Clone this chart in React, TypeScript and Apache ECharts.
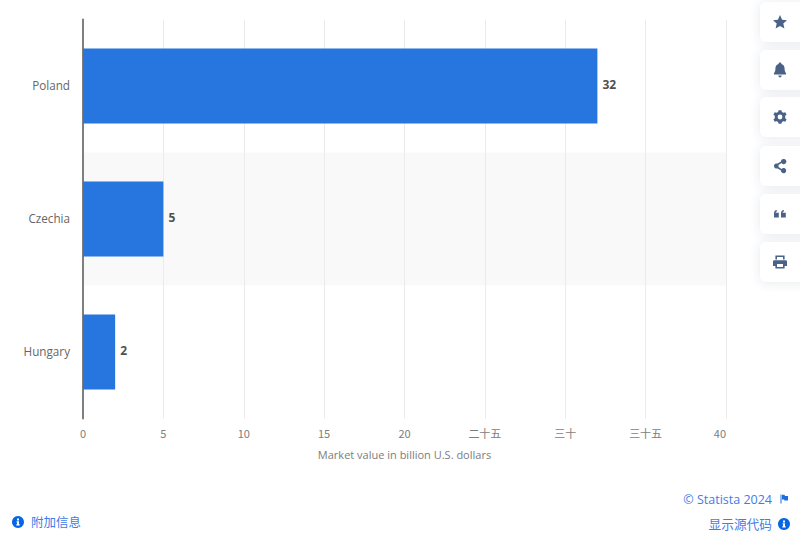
import React, { useEffect, useRef } from "react";
import * as echarts from "echarts";

const categories = ["Poland", "Czechia", "Hungary"];
const values = [32, 5, 2];
const tickLabels = ["0", "5", "10", "15", "20", "二十五", "三十", "三十五", "40"];
const axisTitle = "Market value in billion U.S. dollars";
const FONT = '"Open Sans", "Noto Sans CJK SC", sans-serif';
const CJK = '"Noto Sans CJK SC", "Open Sans", sans-serif';

const iconPaths: Record<string, string> = {
  iconStar: "M0 -7 L2.1 -2.3 L7 -1.8 L3.3 1.5 L4.4 6.5 L0 3.9 L-4.4 6.5 L-3.3 1.5 L-7 -1.8 L-2.1 -2.3 Z",
  iconBell: "M0 -7.5 C-1 -7.5 -1.4 -6.8 -1.5 -6 C-3.8 -5.3 -4.6 -3.4 -4.6 -1.2 C-4.6 1 -5.2 2.1 -6 3.2 L-6 4.6 L6 4.6 L6 3.2 C5.2 2.1 4.6 1 4.6 -1.2 C4.6 -3.4 3.8 -5.3 1.5 -6 C1.4 -6.8 1 -7.5 0 -7.5 Z M-1.8 5.6 L1.8 5.6 C1.6 6.8 0.9 7.4 0 7.4 C-0.9 7.4 -1.6 6.8 -1.8 5.6 Z",
  iconGear: "M-1.4 -6.8 L1.4 -6.8 L1.9 -5 L3.4 -4.2 L5.2 -4.8 L6.6 -2.4 L5.2 -1.2 L5.2 1.2 L6.6 2.4 L5.2 4.8 L3.4 4.2 L1.9 5 L1.4 6.8 L-1.4 6.8 L-1.9 5 L-3.4 4.2 L-5.2 4.8 L-6.6 2.4 L-5.2 1.2 L-5.2 -1.2 L-6.6 -2.4 L-5.2 -4.8 L-3.4 -4.2 L-1.9 -5 Z M0 -2.4 A2.4 2.4 0 1 0 0 2.4 A2.4 2.4 0 1 0 0 -2.4 Z",
  iconShare: "M3.8 -7 A2.6 2.6 0 1 1 1.6 -3 L-1.6 -1.1 A2.6 2.6 0 0 1 -1.6 1.1 L1.6 3 A2.6 2.6 0 1 1 1 4.4 L-2.4 2.4 A2.6 2.6 0 1 1 -2.4 -2.4 L1 -4.4 A2.6 2.6 0 0 1 3.8 -7 Z",
  iconQuote: "M-6 -0.6 C-6 -2.6 -5 -3.8 -3.2 -4 L-3.2 -2.6 C-4 -2.4 -4.4 -2 -4.4 -1.2 L-1.2 -1.2 L-1.2 3.4 L-6 3.4 Z M1 -0.6 C1 -2.6 2 -3.8 3.8 -4 L3.8 -2.6 C3 -2.4 2.6 -2 2.6 -1.2 L5.8 -1.2 L5.8 3.4 L1 3.4 Z",
  iconPrint: "M-4.6 -6.6 L4.6 -6.6 L4.6 -2.6 L3 -2.6 L3 -5 L-3 -5 L-3 -2.6 L-4.6 -2.6 Z M-5.6 -1.8 L5.6 -1.8 C6.4 -1.8 7 -1.2 7 -0.4 L7 4 L4.6 4 L4.6 6.6 L-4.6 6.6 L-4.6 4 L-7 4 L-7 -0.4 C-7 -1.2 -6.4 -1.8 -5.6 -1.8 Z M-3 2 L-3 5 L3 5 L3 2 Z",
  iconFlag: "M-3.5 -4.5 L-2.5 -4.5 L-2.5 4.5 L-3.5 4.5 Z M-2 -4.2 L0.5 -4.2 L1 -3 L4 -3 L4 1.5 L0.5 1.5 L0 0.5 L-2 0.5 Z",
  iconInfo: "M-1 -3.4 L1 -3.4 L1 -1.6 L-1 -1.6 Z M-1.4 -0.8 L1 -0.8 L1 2.2 L1.7 2.2 L1.7 3.5 L-1.7 3.5 L-1.7 2.2 L-1 2.2 L-1 0.5 L-1.4 0.5 Z",
};
Object.keys(iconPaths).forEach((k) => {
  echarts.graphic.registerShape(k, echarts.graphic.extendPath(iconPaths[k], {}));
});

const sideIcons = [
  { name: "iconStar", y: 22 },
  { name: "iconBell", y: 70 },
  { name: "iconGear", y: 117 },
  { name: "iconShare", y: 166 },
  { name: "iconQuote", y: 214 },
  { name: "iconPrint", y: 262 },
];

function infoBadge(x: number, y: number) {
  return [
    { type: "circle", shape: { cx: x, cy: y, r: 6 }, style: { fill: "#0666e5" } },
    { type: "iconInfo", x, y, style: { fill: "#ffffff" } },
  ];
}

export default function App() {
  const ref = useRef<HTMLDivElement>(null);
  useEffect(() => {
    const chart = echarts.init(ref.current!, undefined, { renderer: "svg" });
    chart.setOption({
      animation: false,
      backgroundColor: "#ffffff",
      grid: { left: 83, right: 74, top: 19.5, bottom: 118.5, containLabel: false },
      xAxis: {
        type: "value",
        min: 0,
        max: 40,
        interval: 5,
        name: axisTitle,
        nameLocation: "middle",
        nameGap: 30,
        nameTextStyle: { color: "#7d7d7d", fontSize: 11, fontFamily: FONT },
        axisLine: { show: false },
        axisTick: { show: false },
        splitLine: { show: true, lineStyle: { color: "#ebebeb", width: 1 } },
        axisLabel: {
          color: "#7d7d7d",
          fontSize: 11,
          margin: 9,
          fontFamily: CJK,
          alignMaxLabel: "right",
          formatter: (v: number) => tickLabels[Math.round(v / 5)],
        },
      },
      yAxis: {
        type: "category",
        data: categories,
        inverse: true,
        axisLine: { show: true, lineStyle: { color: "#7f7f7f", width: 2 } },
        axisTick: { show: false },
        axisLabel: { color: "#666666", fontSize: 11.7, margin: 13, verticalAlign: "bottom", lineHeight: 3, fontFamily: FONT },
        splitArea: { show: true, areaStyle: { color: ["rgba(255,255,255,0)", "#f9f9f9"] } },
      },
      series: [
        {
          type: "bar",
          data: values,
          barWidth: 75,
          z: 3,
          itemStyle: { color: "#2775de" },
          label: {
            show: true,
            position: "right",
            distance: 5,
            offset: [0, -1.5],
            color: "#505050",
            fontSize: 12,
            fontWeight: "bold",
            fontFamily: FONT,
          },
        },
      ],
      graphic: [
        ...sideIcons.flatMap((ic) => [
          {
            type: "rect",
            shape: { x: 760, y: ic.y - 20, width: 60, height: 40, r: 6 },
            style: { fill: "#ffffff", shadowBlur: 10, shadowColor: "rgba(60,80,120,0.13)", shadowOffsetY: 1 },
          },
          { type: ic.name, x: 780, y: ic.y, style: { fill: "#4a6285" } },
        ]),
        { type: "text", x: 772, y: 499.5, style: { text: "© Statista 2024", fill: "#3f7de8", fontSize: 12.5, fontFamily: FONT, align: "right", verticalAlign: "middle" } },
        { type: "iconFlag", x: 784, y: 499, style: { fill: "#1a6fe0" } },
        { type: "text", x: 772, y: 523.5, style: { text: "显示源代码", fill: "#3f7de8", fontSize: 12.7, fontFamily: CJK, align: "right", verticalAlign: "middle" } },
        ...infoBadge(784, 524),
        ...infoBadge(18, 522),
        { type: "text", x: 31, y: 521, style: { text: "附加信息", fill: "#3f7de8", fontSize: 12.5, fontFamily: CJK, align: "left", verticalAlign: "middle" } },
      ],
    });
    return () => chart.dispose();
  }, []);
  return <div ref={ref} style={{ position: "fixed", left: 0, top: 0, width: 800, height: 537 }} />;
}
